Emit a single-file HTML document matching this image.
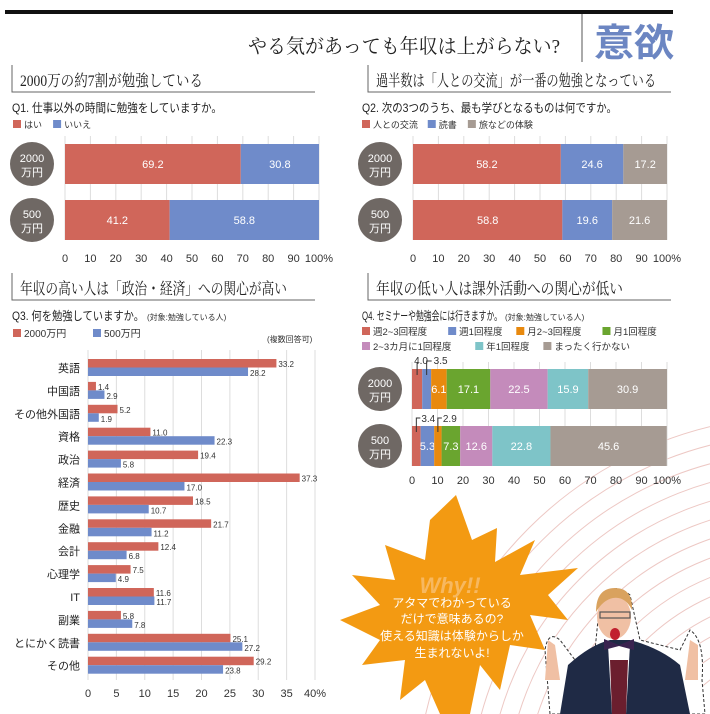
<!DOCTYPE html>
<html><head><meta charset="utf-8"><style>
html,body{margin:0;background:#fff;width:710px;height:714px;overflow:hidden}
svg{display:block;font-family:"Liberation Sans","Noto Sans CJK JP",sans-serif}
.serif{font-family:"Liberation Serif","Noto Serif CJK SC",serif}
</style></head><body>
<svg id="s" width="710" height="714" viewBox="0 0 710 714" xmlns="http://www.w3.org/2000/svg">
<g id="bg"></g>
<rect x="5" y="10" width="668" height="4" fill="#111"/>
<text x="248" y="53" font-size="20" class="serif" fill="#222" textLength="312" lengthAdjust="spacingAndGlyphs">やる気があっても年収は上がらない?</text>
<line x1="582" y1="14" x2="582" y2="62" stroke="#555" stroke-width="1"/>
<text x="594" y="56" font-size="38" font-weight="bold" fill="#6c86c2" textLength="80" lengthAdjust="spacingAndGlyphs">意欲</text>
<g id="main"></g>
<polygon fill="#f39a12" points="456,495 472,540 497,528 495,562 535,540 520,575 578,568 548,595 568,620 530,615 545,650 510,645 500,690 480,665 470,714 440,714 425,680 400,700 405,660 362,665 380,640 340,620 380,605 352,575 395,580 385,545 425,560 430,520"/>
<text x="450" y="593" font-size="22" font-style="italic" font-weight="bold" fill="#f7b860" text-anchor="middle">Why!!</text>
<g font-size="12" fill="#fff" text-anchor="middle">
<text x="452" y="607">アタマでわかっている</text>
<text x="452" y="623">だけで意味あるの?</text>
<text x="452" y="640">使える知識は体験からしか</text>
<text x="452" y="657">生まれないよ!</text>
</g>
<g>
<path d="M550,714 L545,650 Q548,630 560,640 L575,660 L595,650 L600,600 Q612,580 630,595 L640,640 L680,650 L690,630 Q705,640 702,680 L705,714 Z" fill="#fff" stroke="#333" stroke-dasharray="3,2"/>
<path d="M560,714 L568,665 Q590,645 610,640 L630,640 Q660,648 680,665 L690,714 Z" fill="#1f2a45"/>
<path d="M608,645 L630,645 L626,714 L612,714 Z" fill="#fff"/>
<path d="M610,660 L628,660 L626,714 L612,714 Z" fill="#6b1e2e"/>
<path d="M604,639 L619,645 L634,639 L634,650 L619,646 L604,650Z" fill="#3a2350"/>
<ellipse cx="614" cy="617" rx="17" ry="22" fill="#f0c0a4"/>
<path d="M596,612 Q596,588 615,588 Q633,588 632,610 Q625,596 613,598 Q603,600 596,612Z" fill="#d9a25e"/>
<rect x="600" y="612" width="30" height="6" fill="none" stroke="#555" stroke-width="1.2"/>
<ellipse cx="615" cy="634" rx="5" ry="6" fill="#c1202f"/>
<path d="M545,680 L548,640 L555,645 L560,680Z" fill="#f0c0a4"/>
<path d="M685,680 L690,640 L698,645 L698,680Z" fill="#f0c0a4"/>
</g>
</svg>
<script>
const q1Cats=["2000\n万円","500\n万円"];
const q1Yes=[69.2,41.2];
const q1No=[30.8,58.8];
const q2People=[58.2,58.8];
const q2Books=[24.6,19.6];
const q2Travel=[17.2,21.6];
const q3Cats=["英語","中国語","その他外国語","資格","政治","経済","歴史","金融","会計","心理学","IT","副業","とにかく読書","その他"];
const q3High=[33.2,1.4,5.2,11.0,19.4,37.3,18.5,21.7,12.4,7.5,11.6,5.8,25.1,29.2];
const q3Low=[28.2,2.9,1.9,22.3,5.8,17.0,10.7,11.2,6.8,4.9,11.7,7.8,27.2,23.8];
const q3Ticks=[0,5,10,15,20,25,30,35,40];
const pctTicks=[0,10,20,30,40,50,60,70,80,90,100];
const q4High=[4.0,3.5,6.1,17.1,22.5,15.9,30.9];
const q4Low=[3.4,5.3,2.9,7.3,12.6,22.8,45.6];
const q4Labels=["週2~3回程度","週1回程度","月2~3回程度","月1回程度","2~3カ月に1回程度","年1回程度","まったく行かない"];

const NS="http://www.w3.org/2000/svg";
const main=document.getElementById('main');
function mk(tag,at,parent,txt){const e=document.createElementNS(NS,tag);for(const k in at)e.setAttribute(k,at[k]);if(txt!=null)e.textContent=txt;(parent||main).appendChild(e);return e;}
const RED="#d0665a",BLUE="#6f8bca",GREY="#a69b93",ORANGE="#e8890e",GREEN="#6aa52f",PURPLE="#c48bbb",TEAL="#7ec4c8",CIRC="#6f6864";

const bg=document.getElementById('bg');
for(let i=0;i<14;i++){const r=150+i*18;
const a=mk('circle',{cx:800,cy:800,r:r,fill:'none',stroke:'#edc8c4','stroke-width':1},bg);

}

function sectionTitle(x,y,w,t,tw,name){
const l=mk('path',{d:`M${x},${y-15} L${x},${y+12} L${x+w},${y+12}`,fill:'none',stroke:'#666','stroke-width':1});


const tt=mk('text',{x:x+8,y:y+6,'font-size':16,fill:'#222',class:'serif',textLength:tw,lengthAdjust:'spacingAndGlyphs'},null,t);

}

function question(x,y,txt,w,name){
const t=mk('text',{x:x,y:y,'font-size':12,fill:'#222',textLength:w,lengthAdjust:'spacingAndGlyphs'},null,txt);
}

function legend(x,y,items,name,fs){let cx=x;items.forEach(it=>{
const r=mk('rect',{x:cx,y:y-8,width:8,height:8,fill:it[1]});


const t=mk('text',{x:cx+11,y:y,'font-size':fs||9,fill:'#333'},null,it[0]);


cx+=11+it[0].length*(fs||9)*0.95+12;});}

function circleLabel(cx,cy,txt){const g=mk('g',{});


mk('circle',{cx:cx,cy:cy,r:22,fill:CIRC},g);
const p=txt.split("\n");
mk('text',{x:cx,y:cy-2,'font-size':11,fill:'#fff','text-anchor':'middle'},g,p[0]);
mk('text',{x:cx,y:cy+12,'font-size':11,fill:'#fff','text-anchor':'middle'},g,p[1]);}

function stacked(x0,x1,rows,series,colors,name,badgeX,showLabels,axisY,gridTop){
const sx=v=>x0+(x1-x0)*v/100;
pctTicks.forEach(t=>{const g=mk('line',{x1:sx(t),x2:sx(t),y1:gridTop,y2:rows[rows.length-1][1],stroke:'#ddd'});


const tl=mk('text',{x:sx(t),y:axisY,'font-size':11,fill:'#333','text-anchor':'middle'},null,t===100?'100%':String(t));

});
rows.forEach((r,ri)=>{let acc=0;
circleLabel(badgeX,(r[0]+r[1])/2,q1Cats[ri]);
series[ri].forEach((v,si)=>{
const b=mk('rect',{x:sx(acc),y:r[0],width:sx(acc+v)-sx(acc),height:r[1]-r[0],fill:colors[si]});


if(showLabels[ri][si]){const t=mk('text',{x:sx(acc+v/2),y:(r[0]+r[1])/2+4,'font-size':11,fill:'#fff','text-anchor':'middle'},null,v.toFixed(1));

}
acc+=v;});});
return sx;}

// Q1
sectionTitle(12,80,303,"2000万の約7割が勉強している",183,"q1");
question(12,112,"Q1. 仕事以外の時間に勉強をしていますか。",210,'q1-question');
legend(13,128,[["はい",RED],["いいえ",BLUE]],'q1-legend');
stacked(65,319,[[144,184],[200,240]],[[q1Yes[0],q1No[0]],[q1Yes[1],q1No[1]]],[RED,BLUE],'q1',32,[[1,1],[1,1]],262,136);

// Q2
sectionTitle(368,80,303,"過半数は「人との交流」が一番の勉強となっている",280,"q2");
question(362,112,"Q2. 次の3つのうち、最も学びとなるものは何ですか。",255,'q2-question');
legend(362,128,[["人との交流",RED],["読書",BLUE],["旅などの体験",GREY]],'q2-legend');
stacked(413,667,[[144,184],[200,240]],[[q2People[0],q2Books[0],q2Travel[0]],[q2People[1],q2Books[1],q2Travel[1]]],[RED,BLUE,GREY],'q2',380,[[1,1,1],[1,1,1]],262,136);

// Q3
sectionTitle(12,288,303,"年収の高い人は「政治・経済」への関心が高い",267,"q3");
question(12,320,"Q3. 何を勉強していますか。",132,'q3-question');
let t=mk('text',{x:147,y:320,'font-size':8,fill:'#333'},null,"(対象:勉強している人)");

legend(13,337,[["2000万円",RED],["500万円",BLUE]],'q3-legend',10);
t=mk('text',{x:267,y:342,'font-size':8,fill:'#333'},null,"(複数回答可)");

const q3x=v=>88+(315-88)*v/40;
const q3y=i=>368+i*22.9;
q3Ticks.forEach(v=>{const g=mk('line',{x1:q3x(v),x2:q3x(v),y1:350,y2:680,stroke:'#ddd'});

const tl=mk('text',{x:q3x(v),y:697,'font-size':11,fill:'#333','text-anchor':'middle'},null,v===40?'40%':String(v));
});
q3Cats.forEach((c,i)=>{const cy=q3y(i);
const l=mk('text',{x:80,y:cy+4,'font-size':11,fill:'#222','text-anchor':'end'},null,c);

const b1=mk('rect',{x:88,y:cy-9,width:q3x(q3High[i])-88,height:8.5,fill:RED});

const b2=mk('rect',{x:88,y:cy-0.5,width:q3x(q3Low[i])-88,height:8.5,fill:BLUE});

const v1=mk('text',{x:q3x(q3High[i])+2,y:cy-1,'font-size':8,fill:'#333'},null,q3High[i].toFixed(1));

const v2=mk('text',{x:q3x(q3Low[i])+2,y:cy+8,'font-size':8,fill:'#333'},null,q3Low[i].toFixed(1));
});

// Q4
sectionTitle(368,288,303,"年収の低い人は課外活動への関心が低い",247,"q4");
question(362,320,"Q4. セミナーや勉強会には行きますか。",140,'q4-question');
t=mk('text',{x:505,y:320,'font-size':8,fill:'#333'},null,"(対象:勉強している人)");

const c4=[RED,BLUE,ORANGE,GREEN,PURPLE,TEAL,GREY];
legend(362,335,q4Labels.slice(0,4).map((l,i)=>[l,c4[i]]),'q4-legend',9.5);
legend(362,350,q4Labels.slice(4).map((l,i)=>[l,c4[i+4]]),'q4-legend',9.5);
const sx4=stacked(412,667,[[369,409],[426,466]],[q4High,q4Low],c4,'q4',380,[[0,0,1,1,1,1,1],[0,1,0,1,1,1,1]],484,362);
(function(){const p1=sx4(q4High[0]/2),p2=sx4(q4High[0]+q4High[1]/2);
const g=mk('path',{d:`M${p1},375 L${p1},362 M${p2},375 L${p2},361 L${p2+5},361`,fill:'none',stroke:'#333','stroke-width':1});

const t1=mk('text',{x:p1-3,y:364,'font-size':10,fill:'#333'},null,q4High[0].toFixed(1));

const t2=mk('text',{x:p2+7,y:364,'font-size':10,fill:'#333'},null,q4High[1].toFixed(1));
})();
(function(){const p1=sx4(q4Low[0]/2),p2=sx4(q4Low[0]+q4Low[1]+q4Low[2]/2);
const g=mk('path',{d:`M${p1},432 L${p1},418 L${p1+4},418 M${p2},432 L${p2},418 L${p2+4},418`,fill:'none',stroke:'#333'});

const t1=mk('text',{x:p1+5,y:422,'font-size':10,fill:'#333'},null,q4Low[0].toFixed(1));

const t2=mk('text',{x:p2+5,y:422,'font-size':10,fill:'#333'},null,q4Low[2].toFixed(1));
})();
</script>
</body></html>
